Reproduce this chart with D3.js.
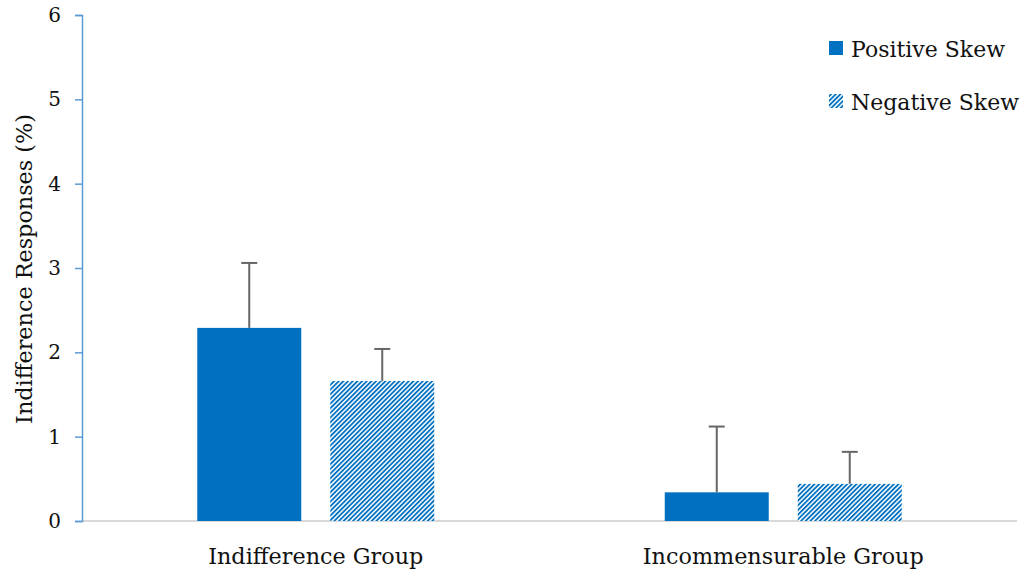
<!DOCTYPE html>
<html>
<head>
<meta charset="utf-8">
<script src="https://cdn.jsdelivr.net/npm/d3@7"></script>
<style>
  html, body { margin: 0; padding: 0; background: #fff; }
  svg { display: block; font-family: "DejaVu Serif", "Liberation Serif", serif; }
</style>
</head>
<body>
<svg id="chart" width="1023" height="575"></svg>
<script>
// Group categories and series
const categories = ["Indifference Group", "Incommensurable Group"];
const seriesNames = ["Positive Skew", "Negative Skew"];
// Mean indifference responses (%) per group, one array per series
const positiveSkew = [2.29, 0.34];
const negativeSkew = [1.66, 0.44];
// Upper error-bar lengths (%)
const positiveErr = [0.77, 0.78];
const negativeErr = [0.38, 0.38];
const yTicks = [0, 1, 2, 3, 4, 5, 6];

const blue = "#0070C0";
const svg = d3.select("#chart");
const margin = { left: 82, right: 6, top: 15, bottom: 54 };
const W = 1023, H = 575;

const x = d3.scaleBand().domain(categories)
  .range([margin.left, W - margin.right]).paddingInner(0).paddingOuter(0);
const y = d3.scaleLinear().domain([0, 6]).range([H - margin.bottom, margin.top]);

const barW = 104, barGap = 29;
const sub = d3.scaleBand().domain(seriesNames)
  .range([0, barW * 2 + barGap]).paddingInner(barGap / (barW + barGap)).paddingOuter(0);

// Diagonal hatch for the negative-skew series
const defs = svg.append("defs");
const pat = defs.append("pattern")
  .attr("id", "hatch").attr("patternUnits", "userSpaceOnUse")
  .attr("width", 3.3).attr("height", 3.3)
  .attr("patternTransform", "rotate(45)");
pat.append("rect").attr("width", 3.3).attr("height", 3.3).attr("fill", "#fff");
pat.append("rect").attr("width", 1.8).attr("height", 3.3).attr("fill", blue);

// x axis baseline
svg.append("line")
  .attr("x1", margin.left).attr("x2", W - margin.right)
  .attr("y1", y(0)).attr("y2", y(0))
  .attr("stroke", "#D9D9D9").attr("stroke-width", 2);

// y axis
const yAxis = d3.axisLeft(y).tickValues(yTicks).tickSize(7).tickPadding(14)
  .tickFormat(d3.format("d"));
const gy = svg.append("g").attr("transform", `translate(${margin.left},0)`).call(yAxis);
gy.select(".domain").attr("stroke", "#5B9BD5").attr("stroke-width", 1.5);
gy.selectAll(".tick line").attr("stroke", "#5B9BD5").attr("stroke-width", 1.5);
gy.selectAll(".tick text").attr("font-size", 20).attr("fill", "#111")
  .attr("font-family", "DejaVu Serif, serif");

// y title
svg.append("text")
  .attr("transform", "translate(32,269) rotate(-90)")
  .attr("text-anchor", "middle").attr("font-size", 22.3).attr("fill", "#111")
  .text("Indifference Responses (%)");

// x labels
svg.selectAll(".xlab").data(categories).enter().append("text")
  .attr("x", d => x(d) + x.bandwidth() / 2).attr("y", y(0) + 43)
  .attr("text-anchor", "middle").attr("font-size", 22.3).attr("fill", "#111")
  .text(d => d);

const data = [
  { name: seriesNames[0], values: positiveSkew, err: positiveErr, fill: blue },
  { name: seriesNames[1], values: negativeSkew, err: negativeErr, fill: "url(#hatch)" }
];

data.forEach(s => {
  const g = svg.append("g");
  categories.forEach((c, i) => {
    const x0 = x(c) + (x.bandwidth() - sub.range()[1]) / 2 + sub(s.name);
    g.append("rect")
      .attr("x", x0).attr("width", sub.bandwidth())
      .attr("y", y(s.values[i])).attr("height", y(0) - y(s.values[i]))
      .attr("fill", s.fill);
    const cx = x0 + sub.bandwidth() / 2;
    const top = s.values[i] + s.err[i];
    g.append("line").attr("x1", cx).attr("x2", cx)
      .attr("y1", y(s.values[i])).attr("y2", y(top))
      .attr("stroke", "#666").attr("stroke-width", 2);
    g.append("line").attr("x1", cx - 8).attr("x2", cx + 8)
      .attr("y1", y(top)).attr("y2", y(top))
      .attr("stroke", "#666").attr("stroke-width", 2);
  });
});

// legend
const legend = svg.append("g");
data.forEach((s, i) => {
  const ly = 41 + i * 53;
  legend.append("rect").attr("x", 829).attr("y", ly).attr("width", 14).attr("height", 14)
    .attr("fill", s.fill);
  legend.append("text").attr("x", 851).attr("y", ly + 16)
    .attr("font-size", 22).attr("fill", "#111").text(s.name);
});
</script>
</body>
</html>
